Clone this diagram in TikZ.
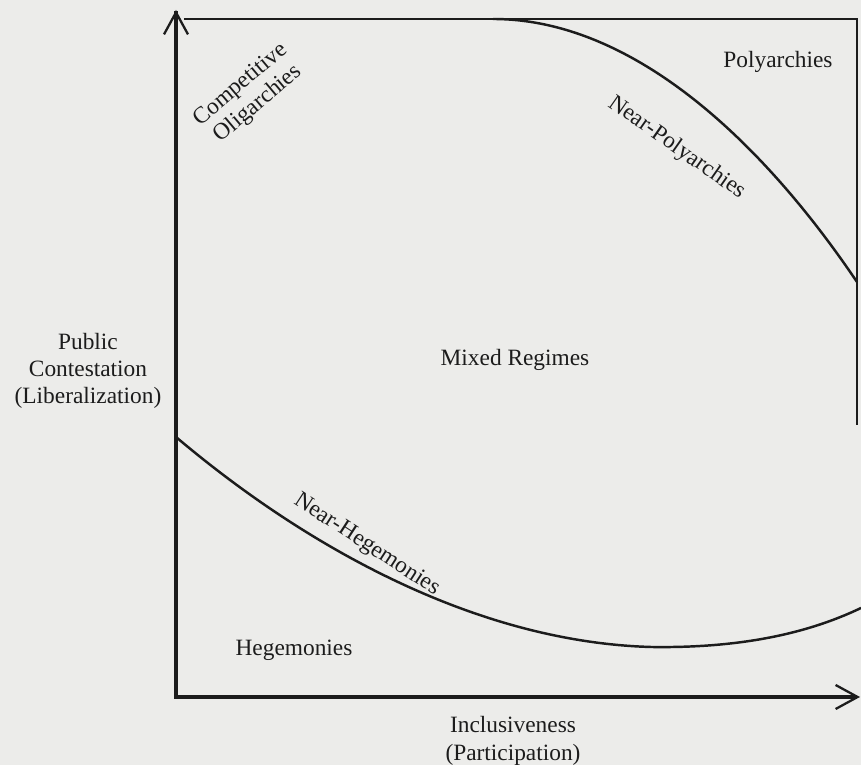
\documentclass[tikz,border=0pt]{standalone}
\usepackage{fontspec}
\setmainfont{Liberation Serif}
\usepackage{tikz}
\usetikzlibrary{arrows.meta}
\definecolor{paper}{RGB}{236,236,234}
\definecolor{ink}{RGB}{28,28,28}
\tikzset{
	axis/.style={line width=2.3pt, draw=ink, -{Straight Barb[length=4.4mm,width=4.8mm,line width=1.3pt]}},
	border/.style={line width=1.1pt, draw=ink},
	regime/.style={line width=1.4pt, draw=ink},
	lbl/.style={text=ink, font=\fontsize{13.3}{15.5}\selectfont, align=center, inner sep=0pt}
}

\begin{document}
\begin{tikzpicture}
			%%%%% START %%%%%
			\fill[paper] (-3.52, -1.36) rectangle (13.70, 13.94);
			\useasboundingbox (-3.52, -1.36) rectangle (13.70, 13.94);
			
			\coordinate (origin) at (0, 0);
			\coordinate (ytip) at (0, 13.74);
			\coordinate (xtip) at (13.68, 0);
			
			\draw[border] (0.16, 13.56) -- (13.62, 13.56) -- (13.62, 5.44);
			
			\draw[regime] (6.34, 13.56) .. controls (9.2, 13.56) and (11.8, 11.0) .. (13.62, 8.3);
			\draw[regime] (0, 5.2) .. controls (2.6, 3.0) and (6, 1.1) .. (9.5, 1.0)
				.. controls (11.5, 0.97) and (12.8, 1.35) .. (13.7, 1.78);
			
			\draw[axis, line cap=rect] (origin) -- (ytip);
			\draw[axis] (origin) -- (xtip);
			
			\node[lbl, rotate=40] (competitive) at (1.30, 12.24) {Competitive};
			\node[lbl, rotate=40] (oligarchies) at (1.64, 11.86) {Oligarchies};
			\node[lbl] (polyarchies) at (12.04, 12.7) {Polyarchies};
			\node[lbl, rotate=-35] (nearpoly) at (10.02, 10.98) {Near-Polyarchies};
			\node[lbl] (contestation) at (-1.76, 6.52) {Public\\Contestation\\(Liberalization)};
			\node[lbl] (mixed) at (6.78, 6.74) {Mixed Regimes};
			\node[lbl, rotate=-33] (nearheg) at (3.82, 3.04) {Near-Hegemonies};
			\node[lbl] (hegemonies) at (2.36, 0.94) {Hegemonies};
			\node[lbl] (inclusiveness) at (6.74, -0.88) {Inclusiveness\\(Participation)};
			%%%%% END %%%%%
\end{tikzpicture}
\end{document}
